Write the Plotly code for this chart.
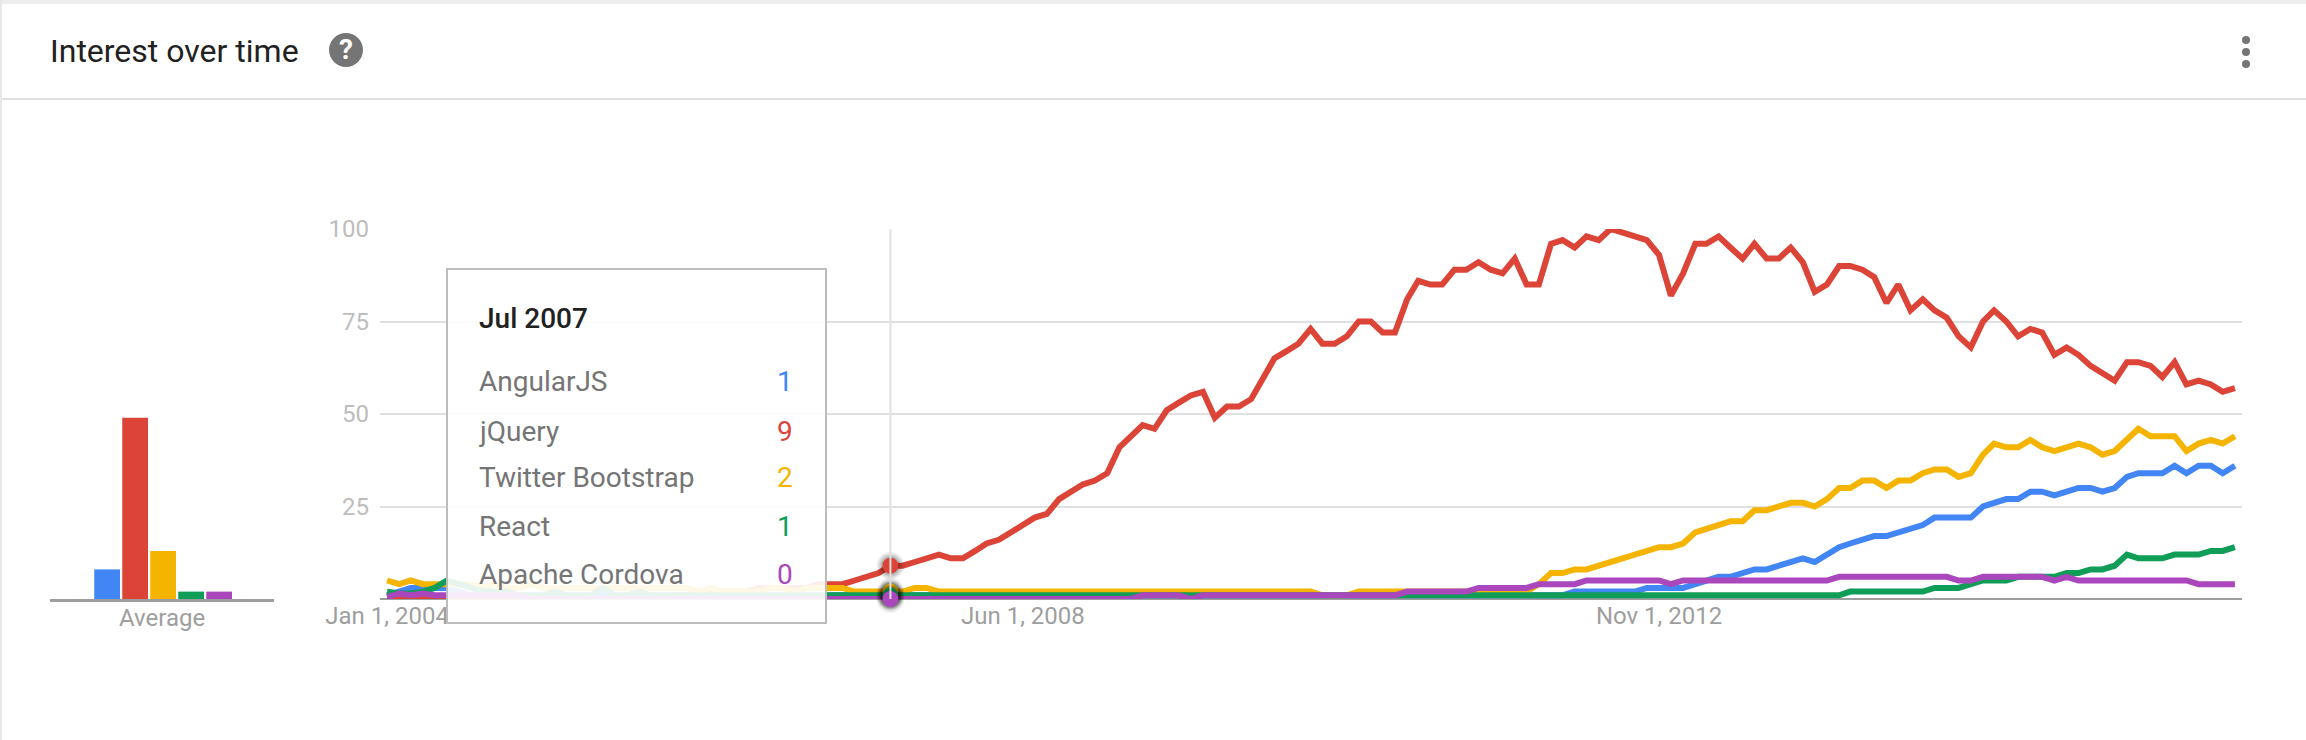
import plotly.graph_objects as go
import pandas as pd

W, H = 2306, 740

months = pd.date_range("2004-01-01", "2016-11-01", freq="MS").strftime("%Y-%m-%d").tolist()

angular = [1, 2, 3, 3, 3, 3, 2, 1, 1, 1, 1, 1, 1, 1, 1, 1, 1, 1, 1, 1, 1, 1, 1, 1, 1, 1, 1, 1, 1, 1,
           1, 1, 1, 1, 1, 1, 1, 1, 1, 1, 1, 1, 1, 1, 1, 1, 1, 1, 1, 1, 1, 1, 1, 1, 1, 1, 1, 1, 1, 1,
           1, 1, 1, 1, 1, 1, 1, 1, 1, 1, 1, 1, 1, 1, 1, 1, 1, 1, 1, 1, 1, 1, 1, 1, 1, 1, 1, 1, 1, 1,
           1, 1, 1, 1, 1, 1, 1, 1, 1, 2, 2, 2, 2, 2, 2, 3, 3, 3, 3, 4, 5, 6, 6, 7, 8, 8, 9, 10, 11, 10,
           12, 14, 15, 16, 17, 17, 18, 19, 20, 22, 22, 22, 22, 25, 26, 27, 27, 29, 29, 28, 29, 30, 30, 29, 30,
           33, 34, 34, 34, 36, 34, 36, 36, 34, 36]

jquery = [0, 0, 0, 0, 0, 0, 0, 0, 0, 0, 0, 0, 0, 0, 0, 0, 0, 0, 0, 0, 0, 0, 0, 0, 1, 1, 2, 2, 2, 2,
          2, 3, 3, 3, 3, 3, 4, 4, 4, 5, 6, 7, 9, 9, 10, 11, 12, 11, 11, 13, 15, 16, 18, 20, 22, 23, 27, 29, 31, 32,
          34, 41, 44, 47, 46, 51, 53, 55, 56, 49, 52, 52, 54, 60, 65, 67, 69, 73, 69, 69, 71, 75, 75, 72, 72, 81, 86, 85, 85, 89,
          89, 91, 89, 88, 92, 85, 85, 96, 97, 95, 98, 97, 100, 99, 98, 97, 93, 82, 88, 96, 96, 98, 95, 92, 96, 92, 92, 95, 91, 83,
          85, 90, 90, 89, 87, 80, 85, 78, 81, 78, 76, 71, 68, 75, 78, 75, 71, 73, 72, 66, 68, 66, 63, 61, 59,
          64, 64, 63, 60, 64, 58, 59, 58, 56, 57]

bootstrap = [5, 4, 5, 4, 4, 4, 4, 4, 3, 4, 3, 3, 4, 3, 3, 3, 3, 3, 3, 3, 3, 3, 3, 3, 3, 3, 2, 3, 2, 2,
             2, 2, 3, 3, 2, 3, 3, 3, 3, 2, 2, 2, 2, 2, 3, 3, 2, 2, 2, 2, 2, 2, 2, 2, 2, 2, 2, 2, 2, 2,
             2, 2, 2, 2, 2, 2, 2, 2, 2, 2, 2, 2, 2, 2, 2, 2, 2, 2, 1, 1, 1, 2, 2, 2, 2, 2, 2, 2, 2, 2,
             2, 2, 2, 2, 2, 2, 4, 7, 7, 8, 8, 9, 10, 11, 12, 13, 14, 14, 15, 18, 19, 20, 21, 21, 24, 24, 25, 26, 26, 25,
             27, 30, 30, 32, 32, 30, 32, 32, 34, 35, 35, 33, 34, 39, 42, 41, 41, 43, 41, 40, 41, 42, 41, 39, 40,
             43, 46, 44, 44, 44, 40, 42, 43, 42, 44]

react = [2, 1.5, 1.5, 2, 3, 5, 4, 3, 2, 2, 2, 1, 1, 1, 2, 1, 1, 1, 3, 1, 1, 2, 1, 1, 1, 1, 1, 1, 1, 1,
         1, 1, 1, 1, 1, 1, 1, 1, 1, 1, 1, 1, 1, 1, 1, 1, 1, 1, 1, 1, 1, 1, 1, 1, 1, 1, 1, 1, 1, 1,
         1, 1, 1, 1, 1, 1, 1, 1, 1, 1, 1, 1, 1, 1, 1, 1, 1, 1, 1, 1, 1, 1, 1, 1, 1, 1, 1, 1, 1, 1,
         1, 1, 1, 1, 1, 1, 1, 1, 1, 1, 1, 1, 1, 1, 1, 1, 1, 1, 1, 1, 1, 1, 1, 1, 1, 1, 1, 1, 1, 1,
         1, 1, 2, 2, 2, 2, 2, 2, 2, 3, 3, 3, 4, 5, 5, 5, 6, 6, 6, 6, 7, 7, 8, 8, 9,
         12, 11, 11, 11, 12, 12, 12, 13, 13, 14]

cordova = [0.5, 1.5, 1, 1.5, 1, 1, 1, 1, 1, 1, 1, 1, 0, 0, 0, 0, 0, 0, 0, 0, 0, 0, 0, 0, 0, 0, 0, 0, 0, 0,
           0, 0, 0, 0, 0, 0, 0, 0, 0, 0, 0, 0, 0, 0, 0, 0, 0, 0, 0, 0, 0, 0, 0, 0, 0, 0, 0, 0, 0, 0,
           0, 0, 0, 1, 1, 1, 1, 0, 1, 1, 1, 1, 1, 1, 1, 1, 1, 1, 1, 1, 1, 1, 1, 1, 1, 2, 2, 2, 2, 2,
           2, 3, 3, 3, 3, 3, 4, 4, 4, 4, 5, 5, 5, 5, 5, 5, 5, 4, 5, 5, 5, 5, 5, 5, 5, 5, 5, 5, 5, 5,
           5, 6, 6, 6, 6, 6, 6, 6, 6, 6, 6, 5, 5, 6, 6, 6, 6, 6, 6, 5, 6, 5, 5, 5, 5,
           5, 5, 5, 5, 5, 5, 4, 4, 4, 4]

series_names = ["AngularJS", "jQuery", "Twitter Bootstrap", "React", "Apache Cordova"]
series_values = [angular, jquery, bootstrap, react, cordova]
series_colors = ["#4285F4", "#DB4437", "#F4B400", "#0F9D58", "#AB47BC"]
averages = [8, 49, 13, 2, 2]
hover_month = "2007-07-01"
hover_label = "Jul 2007"
hover_values = ["1", "9", "2", "1", "0"]
y_ticks = [0, 25, 50, 75, 100]
y_labels = ["", "25", "50", "75", "100"]
x_ticks = ["2004-01-01", "2008-06-01", "2012-11-01"]
x_labels = ["Jan 1, 2004", "Jun 1, 2008", "Nov 1, 2012"]


def px(x):
    return x / W


def py(y):
    return 1 - y / H


FONT = "Roboto"
fig = go.Figure()

# main chart lines
for name, vals, col in zip(series_names, series_values, series_colors):
    fig.add_trace(go.Scatter(x=months, y=vals, mode="lines", name=name, cliponaxis=False,
                             line=dict(color=col, width=6, shape="linear"),
                             xaxis="x", yaxis="y", showlegend=False, hoverinfo="skip"))

# highlighted points
h = months.index(hover_month)
for name, vals, col in zip(series_names, series_values, series_colors):
    for size, alpha in ((28, 0.05), (25, 0.07), (22, 0.09), (19, 0.12)):
        fig.add_trace(go.Scatter(x=[months[h]], y=[vals[h]], mode="markers", cliponaxis=False,
                                 marker=dict(color=f"rgba(0,0,0,{alpha})", size=size, line=dict(width=0)),
                                 xaxis="x", yaxis="y", showlegend=False, hoverinfo="skip"))
    fig.add_trace(go.Scatter(x=[months[h]], y=[vals[h]], mode="markers", cliponaxis=False,
                             marker=dict(color=col, size=16, line=dict(width=0)),
                             xaxis="x", yaxis="y", showlegend=False, hoverinfo="skip"))

# average bars
fig.add_trace(go.Bar(x=series_names, y=averages, marker=dict(color=series_colors, line=dict(width=0)),
                     width=0.92, xaxis="x2", yaxis="y2", showlegend=False, hoverinfo="skip"))

ann = []


def text(x, y, s, size, color, anchor="left", weight=None):
    f = dict(family=FONT, size=size, color=color)
    if weight:
        f["weight"] = weight
    ann.append(dict(xref="paper", yref="paper", x=px(x), y=py(y), text=s, showarrow=False,
                    xanchor=anchor, yanchor="middle", font=f, borderpad=0, borderwidth=0))


text(50, 51, "Interest over time", 32, "#212121")
text(346, 50, "<b>?</b>", 28, "#ffffff", "center")
text(162, 618, "Average", 24, "#9e9e9e", "center")
text(479, 318, hover_label, 28, "#212121", weight=500)
rows_y = [382, 431, 478, 526.5, 574]
for name, val, col, ry in zip(series_names, hover_values, series_colors, rows_y):
    text(479, ry, name, 28, "#757575")
    text(793, ry, val, 28, col, "right")

shapes = [
    # page edges and header rule
    dict(type="rect", xref="paper", yref="paper", x0=0, x1=1, y0=py(4), y1=1, fillcolor="#eeeeee", line_width=0, layer="below"),
    dict(type="rect", xref="paper", yref="paper", x0=0, x1=px(2), y0=0, y1=1, fillcolor="#e8e8e8", line_width=0, layer="below"),
    dict(type="line", xref="paper", yref="paper", x0=px(2), x1=1, y0=py(99), y1=py(99), line=dict(color="#e0e0e0", width=2), layer="below"),
    # help icon
    dict(type="circle", xref="paper", yref="paper", x0=px(329), x1=px(363), y0=py(33), y1=py(67), fillcolor="#757575", line_width=0, layer="below"),
    # menu dots
    dict(type="circle", xref="paper", yref="paper", x0=px(2242), x1=px(2250), y0=py(36), y1=py(44), fillcolor="#757575", line_width=0, layer="below"),
    dict(type="circle", xref="paper", yref="paper", x0=px(2242), x1=px(2250), y0=py(48), y1=py(56), fillcolor="#757575", line_width=0, layer="below"),
    dict(type="circle", xref="paper", yref="paper", x0=px(2242), x1=px(2250), y0=py(60), y1=py(68), fillcolor="#757575", line_width=0, layer="below"),
    # crosshair
    dict(type="line", xref="x", yref="paper", x0=hover_month, x1=hover_month, y0=py(599), y1=py(229), line=dict(color="#e0e0e0", width=2), layer="above"),
    # tooltip box
    dict(type="rect", xref="paper", yref="paper", x0=px(447), x1=px(826), y0=py(623), y1=py(269), fillcolor="rgba(255,255,255,0.9)", line=dict(color="#bdbdbd", width=2), layer="above"),
]

fig.update_layout(
    width=W, height=H, margin=dict(l=0, r=0, t=0, b=0), autosize=False,
    paper_bgcolor="#ffffff", plot_bgcolor="rgba(0,0,0,0)", barmode="overlay",
    shapes=shapes, annotations=ann, hovermode=False,
    font=dict(family=FONT),
    xaxis=dict(domain=[px(380), px(2242)], type="date", range=["2003-12-14", "2016-11-19"], automargin=False,
               tickmode="array", tickvals=x_ticks, ticktext=x_labels, showgrid=False, ticks="",
               tickfont=dict(family=FONT, size=24, color="#9e9e9e"), showline=False,
               zeroline=False, anchor="y", ticklabelstandoff=0),
    yaxis=dict(domain=[py(599), py(229)], range=[0, 100], tickmode="array", tickvals=y_ticks, ticktext=y_labels, automargin=False,
               showgrid=True, gridcolor="#e0e0e0", gridwidth=2, zeroline=True, zerolinecolor="#9e9e9e", zerolinewidth=2,
               showline=False, ticks="",
               tickfont=dict(family=FONT, size=24, color="#bdbdbd"), anchor="x", ticklabelstandoff=10),
    xaxis2=dict(domain=[px(50), px(274)], range=[-2.04, 5.96], type="category", showticklabels=False, showgrid=False, automargin=False,
                ticks="", showline=True, linecolor="#9e9e9e", linewidth=3, zeroline=False, anchor="y2",
                categoryorder="array", categoryarray=series_names),
    yaxis2=dict(domain=[py(599), py(229)], range=[0, 100], visible=False, anchor="x2", automargin=False),
)

fig.write_html("out.html", config={"displayModeBar": False},
               post_script="document.body.style.margin='0';document.body.style.overflow='hidden';")
